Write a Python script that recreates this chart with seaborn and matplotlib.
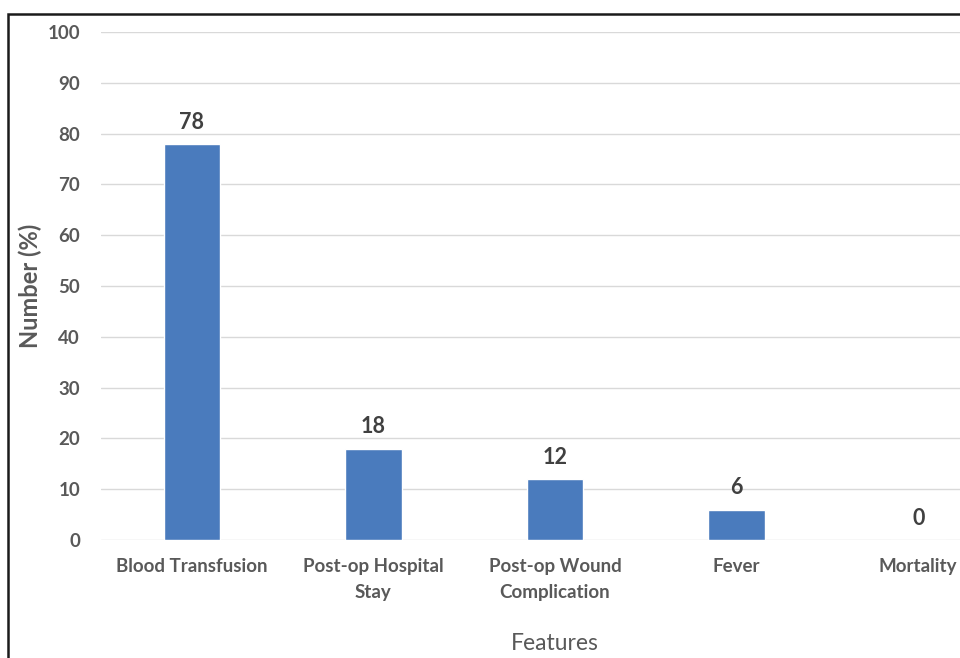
import matplotlib
matplotlib.use("Agg")
import matplotlib.pyplot as plt
import seaborn as sns
import pandas as pd
from matplotlib.patches import Rectangle

categories = ["Blood Transfusion", "Post-op Hospital\nStay", "Post-op Wound\nComplication", "Fever", "Mortality"]
values = [78, 18, 12, 6, 0]
y_ticks = [0, 10, 20, 30, 40, 50, 60, 70, 80, 90, 100]

df = pd.DataFrame({"feature": categories, "pct": values})

sns.set_theme(style="white")
plt.rcParams["font.family"] = ["Lato", "DejaVu Sans"]

fig = plt.figure(figsize=(9.6, 6.58), dpi=100)
ax = fig.add_axes([101 / 960, 1 - 540 / 658, 908 / 960, 508 / 658])

sns.barplot(data=df, x="feature", y="pct", color="#4a7bbd", width=0.31,
            saturation=1, ax=ax, zorder=3)

ax.set_ylim(0, 100)
ax.set_xlim(-0.5, len(categories) - 0.5)
ax.set_yticks(y_ticks)
ax.set_yticklabels([str(t) for t in y_ticks])
ax.yaxis.grid(True, color="#d9d9d9", linewidth=1.0, zorder=0)
ax.set_axisbelow(True)
for s in ax.spines.values():
    s.set_visible(False)

text_col = "#595959"
ax.tick_params(axis="y", length=0, pad=15, labelsize=13.5, labelcolor=text_col)
ax.tick_params(axis="x", length=0, pad=13, labelsize=13.5, labelcolor=text_col)
for lbl in ax.get_xticklabels() + ax.get_yticklabels():
    lbl.set_fontweight("bold")
    lbl.set_linespacing(1.65)

ax.set_ylabel("Number (%)", fontsize=17, color=text_col, fontweight="bold",
              va="center")
ax.yaxis.set_label_coords(-71 / 908, 0.5)
ax.set_xlabel("Features", fontsize=16.5, color=text_col, va="center")
ax.xaxis.set_label_coords(0.5, -103 / 508)

for bar, v in zip(ax.patches, values):
    ax.annotate(str(v), (bar.get_x() + bar.get_width() / 2, v),
                xytext=(0, 8), textcoords="offset points",
                ha="center", va="bottom", fontsize=15.5, fontweight="bold",
                color="#404040")

# frame around the chart area
fig.patches.append(Rectangle((8 / 960, -0.1), 1.2, 1 - 14 / 658 + 0.1,
                             transform=fig.transFigure, fill=False,
                             edgecolor="#1a1a1a", linewidth=1.8, zorder=10))

fig.savefig("out.png", dpi=100)
